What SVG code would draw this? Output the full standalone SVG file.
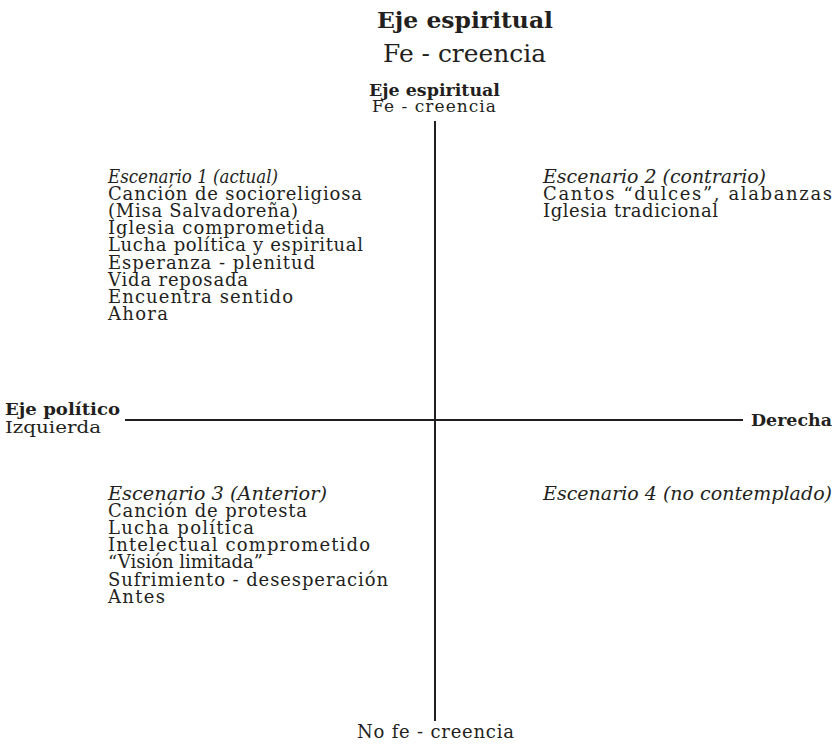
<svg xmlns="http://www.w3.org/2000/svg" width="838" height="745" viewBox="0 0 838 745">
<style>
text{fill:#231f20;font-family:"DejaVu Serif","Liberation Serif",serif}
.b{font-weight:bold}
.t{font-size:18px}
.i{font-style:italic}
.ax{stroke:#231f20;stroke-width:2;fill:none}
</style>
<rect width="838" height="745" fill="#fff"/>
<g id="title">
<text class="b" x="377" y="28" font-size="23" textLength="176" lengthAdjust="spacingAndGlyphs">Eje espiritual</text>
<text x="383" y="62" font-size="24" textLength="163" lengthAdjust="spacingAndGlyphs">Fe - creencia</text>
</g>
<g id="connectors">
<line class="ax" x1="435" y1="121" x2="435" y2="721"/>
<line class="ax" x1="125" y1="420" x2="743" y2="420"/>
</g>
<g id="top-label">
<text class="b" x="369" y="96" font-size="17" textLength="131" lengthAdjust="spacingAndGlyphs">Eje espiritual</text>
<text x="372" y="112" font-size="17" textLength="124">Fe - creencia</text>
</g>
<g id="left-label">
<text class="b" x="5" y="415" font-size="17" textLength="115" lengthAdjust="spacingAndGlyphs">Eje político</text>
<text x="5" y="433" font-size="17" textLength="96" lengthAdjust="spacingAndGlyphs">Izquierda</text>
</g>
<g id="right-label">
<text class="b" x="751" y="426" font-size="17" textLength="81" lengthAdjust="spacingAndGlyphs">Derecha</text>
</g>
<g id="bottom-label">
<text class="t" x="357" y="738" textLength="157">No fe - creencia</text>
</g>
<g id="escenario1">
<text class="t i" x="108" y="183" textLength="170" lengthAdjust="spacingAndGlyphs">Escenario 1 (actual)</text>
<text class="t" x="108" y="200.1" textLength="254">Canción de socioreligiosa</text>
<text class="t" x="108" y="217.2" textLength="190">(Misa Salvadoreña)</text>
<text class="t" x="108" y="234.3" textLength="217">Iglesia comprometida</text>
<text class="t" x="108" y="251.4" textLength="255">Lucha política y espiritual</text>
<text class="t" x="108" y="268.5" textLength="207">Esperanza - plenitud</text>
<text class="t" x="108" y="285.6" textLength="140">Vida reposada</text>
<text class="t" x="108" y="302.7" textLength="185">Encuentra sentido</text>
<text class="t" x="108" y="319.8" textLength="60">Ahora</text>
</g>
<g id="escenario2">
<text class="t i" x="543" y="183" textLength="223" lengthAdjust="spacingAndGlyphs">Escenario 2 (contrario)</text>
<text class="t" x="543" y="200.1" textLength="289">Cantos “dulces”, alabanzas</text>
<text class="t" x="543" y="217.2" textLength="175">Iglesia tradicional</text>
</g>
<g id="escenario3">
<text class="t i" x="108" y="500" textLength="219" lengthAdjust="spacingAndGlyphs">Escenario 3 (Anterior)</text>
<text class="t" x="108" y="517.1" textLength="199">Canción de protesta</text>
<text class="t" x="108" y="534.2" textLength="146">Lucha política</text>
<text class="t" x="108" y="551.3" textLength="262">Intelectual comprometido</text>
<text class="t" x="108" y="568.4">“Visión limitada”</text>
<text class="t" x="108" y="585.5" textLength="280">Sufrimiento - desesperación</text>
<text class="t" x="108" y="602.6" textLength="57">Antes</text>
</g>
<g id="escenario4">
<text class="t i" x="543" y="500" textLength="289" lengthAdjust="spacingAndGlyphs">Escenario 4 (no contemplado)</text>
</g>
</svg>
